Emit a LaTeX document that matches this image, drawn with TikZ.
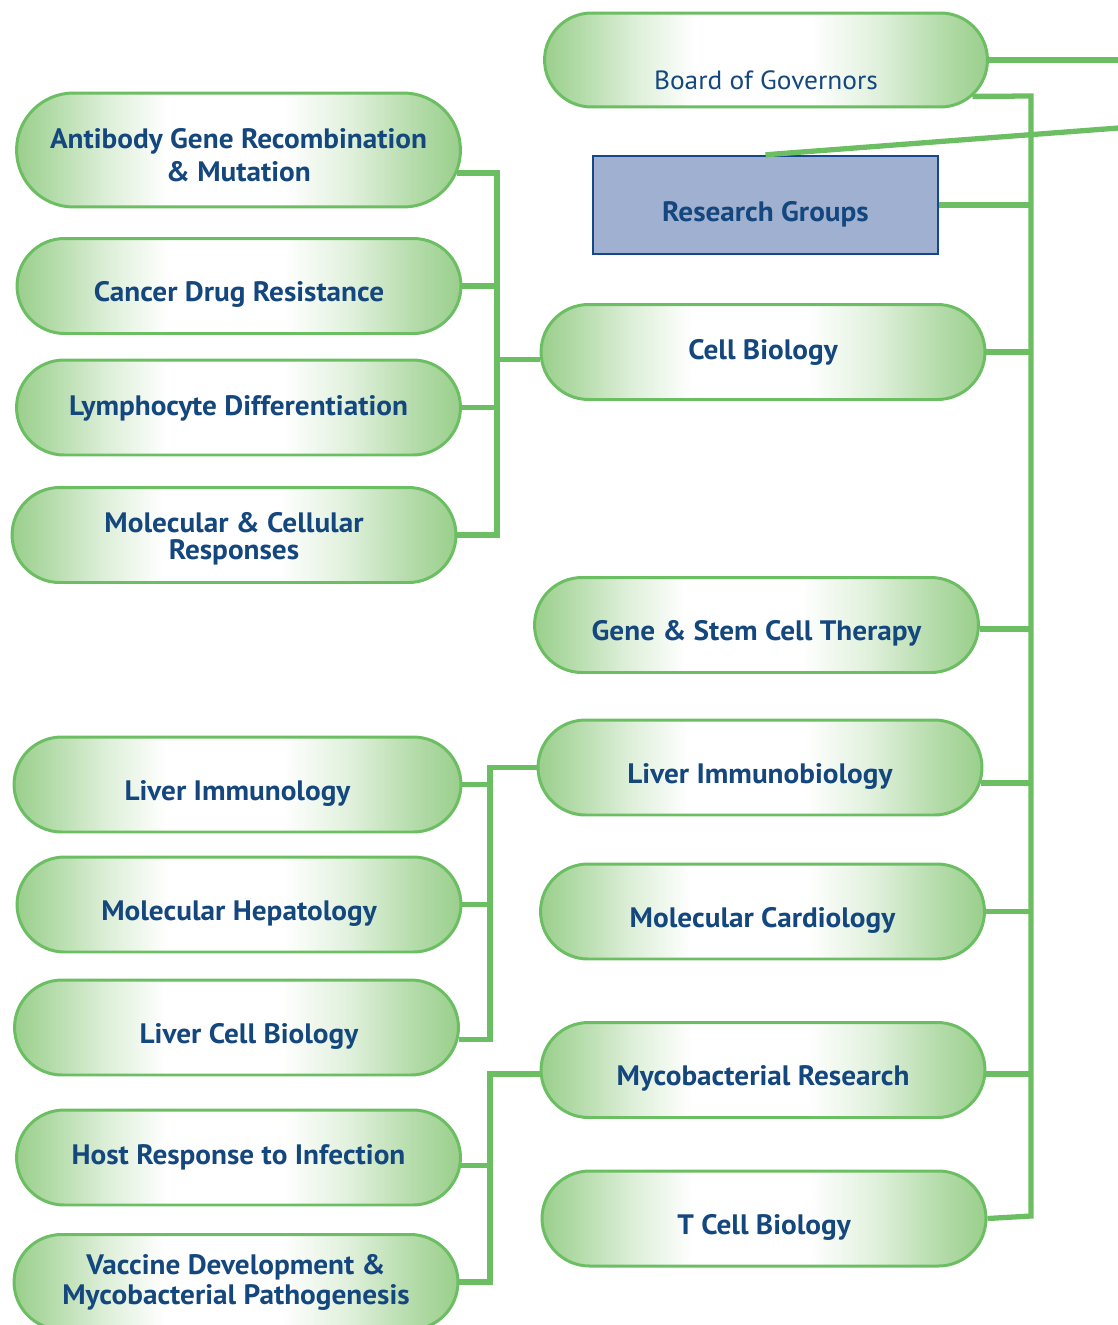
\documentclass[tikz,border=0pt]{standalone}
\usepackage{fontspec}
\setmainfont{PT Sans}[FakeStretch=1.04]
\usetikzlibrary{shapes.misc}

\definecolor{leafgreen}{HTML}{6CBE62}
\definecolor{leafedge}{HTML}{9ACF8C}
\definecolor{navy}{HTML}{15477F}
\definecolor{hubfill}{HTML}{A0B0D0}
\definecolor{hubline}{HTML}{16468C}

% green at both ends, white across the middle
\pgfdeclarehorizontalshading{leafshade}{100bp}{color(0bp)=(leafedge); color(25bp)=(leafedge);
  color(29bp)=(leafedge!75!white); color(35bp)=(leafedge!35!white); color(42bp)=(white);
  color(55bp)=(white); color(62.5bp)=(leafedge!30!white); color(70bp)=(leafedge!75!white);
  color(75bp)=(leafedge); color(100bp)=(leafedge)}

\begin{document}
\begin{tikzpicture}[x=0.02cm, y=-0.02cm,
    grp/.style={draw=leafgreen, line width=1.7pt, shape=rounded rectangle, shade, shading=leafshade,
      minimum width=8.88cm, minimum height=1.9cm, inner sep=0pt, align=center, text=navy,
      font=\fontsize{16}{19}\selectfont\bfseries},
    drop/.style={text height=#1, text depth=0pt}, drop/.default=18pt,
    hub/.style={draw=hubline, line width=1.4pt, fill=hubfill, minimum width=6.9cm, minimum height=1.96cm,
      inner sep=0pt, text=navy, font=\fontsize{16}{19}\selectfont\bfseries},
    link/.style={draw=leafgreen, line width=3pt}]
    \useasboundingbox (0,0) rectangle (1118,1325);

    % right column
    \node[grp, minimum width=8.86cm, minimum height=1.88cm,
      label={[yshift=-0.4cm, text=navy, font=\fontsize{15}{18}\selectfont]center:Board of Governors}] (bog) at (766,60) {};
    \node[hub, drop=19pt] (rg) at (765.5,205) {Research Groups};
    \node[grp, drop=8pt] (cb) at (763,352) {Cell Biology};
    \node[grp, drop] (gsc) at (756.5,625) {Gene \& Stem Cell Therapy};
    \node[grp, drop] (limb) at (760,767.5) {Liver Immunobiology};
    \node[grp, drop] (mcard) at (762.5,911.5) {Molecular Cardiology};
    \node[grp, drop] (myr) at (763,1070) {Mycobacterial Research};
    \node[grp, drop] (tcb) at (764,1218.5) {T Cell Biology};

    % left column
    \node[grp, minimum height=2.28cm, font=\fontsize{16}{18.7}\selectfont\bfseries] (ab) at (238.5,150) {\rule{0pt}{17pt}Antibody Gene Recombination\\\& Mutation};
    \node[grp, drop] (cdr) at (239,286) {Cancer Drug Resistance};
    \node[grp, drop=9.5pt] (lym) at (238.5,407.5) {Lymphocyte Differentiation};
    \node[grp, font=\fontsize{16}{15.5}\selectfont\bfseries] (mcr) at (234,535) {\rule{0pt}{16pt}Molecular \& Cellular\\Responses};
    \node[grp, drop, minimum width=8.94cm] (limm) at (237.5,784.5) {Liver Immunology};
    \node[grp, drop] (mhep) at (239,904.5) {Molecular Hepatology};
    \node[grp, drop] (lcb) at (236.5,1027.5) {\hspace*{0.5cm}Liver Cell Biology};
    \node[grp, drop=8.5pt] (hri) at (238.5,1157.5) {Host Response to Infection};
    \node[grp, font=\fontsize{16}{17}\selectfont\bfseries] (vdm) at (236,1282) {Vaccine Development \&\\Mycobacterial Pathogenesis};

    \coordinate (spine) at (1031,96);
    \coordinate (spineEnd) at (1031,1216);
    \coordinate (busA) at (497,0);
    \coordinate (busB) at (490,0);
    \coordinate (outTop) at (1125,60);
    \coordinate (outHub) at (1125,127.5);

    % spine on the right
    \draw[link] (bog.east) -- (outTop);
    \draw[link] (rg.north) -- (outHub);
    \draw[link] (bog.-10) -- (spine) -- (spineEnd) -- (tcb.east);
    \foreach \n in {rg, cb, mcard}
        \draw[link] (\n.east) -- (\n.east -| spine);
    \draw[link] (gsc.-1) -- (gsc.-1 -| spine);
    \draw[link] (limb.-4.5) -- (limb.-4.5 -| spine);
    \draw[link] (myr.-1.5) -- (myr.-1.5 -| spine);

    % buses on the left
    \draw[link] (ab.-6) -| (busA |- mcr.east) -- (mcr.east);
    \foreach \n in {cdr, lym}
        \draw[link] (\n.east) -- (\n.east -| busA);
    \draw[link] (cb.182) -- (cb.182 -| busA);

    \draw[link] (limb.west) -| (busB |- lcb.-3.3) -- (lcb.-3.3);
    \foreach \n in {limm, mhep}
        \draw[link] (\n.east) -- (\n.east -| busB);

    \draw[link] (myr.181.5) -| (busB |- vdm.east) -- (vdm.east);
    \draw[link] (hri.-2.2) -- (hri.-2.2 -| busB);
\end{tikzpicture}
\end{document}
